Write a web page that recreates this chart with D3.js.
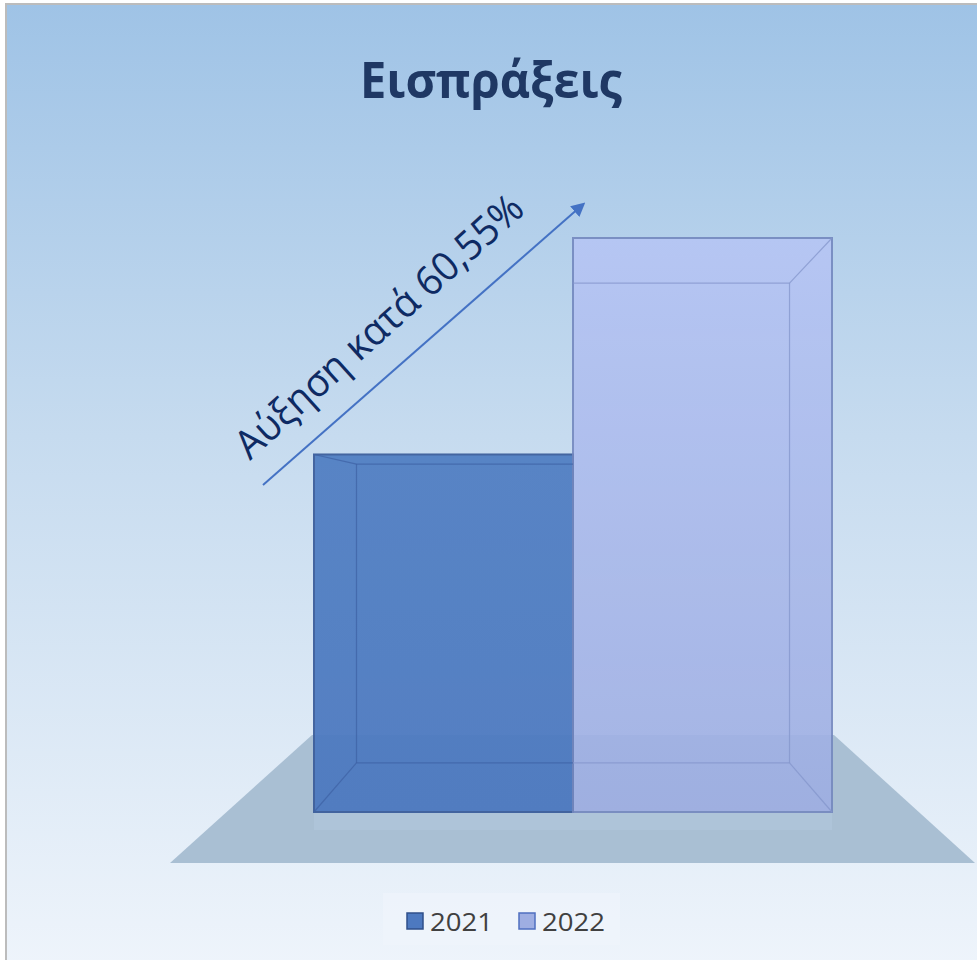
<!DOCTYPE html>
<html>
<head>
<meta charset="utf-8">
<script src="https://cdn.jsdelivr.net/npm/d3@7"></script>
<style>
  body { margin: 0; background: #ffffff; }
</style>
</head>
<body>
<div id="chart"></div>
<script>
const FRAME_WIDTH = 977;
const FRAME_HEIGHT = 960;

// data
const YEARS = ["2021", "2022"];
const VALUES = [100, 160.55];
const TITLE = "Εισπράξεις";
const NOTE = "Αύξηση κατά 60,55%";

const BAR_COLORS = ["#4d79c0", "#9eaee2"];
const BAR_TOPS = ["#5280c3", "#b6c5f4"];

// plot geometry
const PLOT = {left: 314, right: 832, base: 812, top: 238};
// vanishing point + depth factor for the fake 3d box
const VP = {x: 573, y: 513};
const DEPTH = 0.836;

const SVG = d3.select("#chart")
  .append("svg")
    .attr("width", FRAME_WIDTH)
    .attr("height", FRAME_HEIGHT);

const defs = SVG.append("defs");

const bg = defs.append("linearGradient").attr("id", "bg")
  .attr("x1", 0).attr("y1", 0).attr("x2", 0).attr("y2", 1);
bg.append("stop").attr("offset", "0%").attr("stop-color", "#9fc3e6");
bg.append("stop").attr("offset", "45%").attr("stop-color", "#c6dbef");
bg.append("stop").attr("offset", "100%").attr("stop-color", "#eef4fb");

YEARS.forEach((y, i) => {
  let g = defs.append("linearGradient").attr("id", "bar" + i)
    .attr("x1", 0).attr("y1", 0).attr("x2", 0).attr("y2", 1);
  g.append("stop").attr("offset", "0%").attr("stop-color", BAR_TOPS[i]);
  g.append("stop").attr("offset", "100%").attr("stop-color", BAR_COLORS[i]);
});

// panel + border
SVG.append("rect")
  .attr("x", 6).attr("y", 4)
  .attr("width", FRAME_WIDTH).attr("height", FRAME_HEIGHT)
  .attr("fill", "url(#bg)")
  .attr("stroke", "#bcbcbc")
  .attr("stroke-width", 2);

const X_SCALE = d3.scaleBand()
  .domain(YEARS)
  .range([PLOT.left, PLOT.right])
  .padding(0);

const Y_SCALE = d3.scaleLinear()
  .domain([0, d3.max(VALUES)])
  .range([PLOT.base, PLOT.top]);

// project a front point to the back face
function back(x, y) {
  return [VP.x + (x - VP.x) * DEPTH, VP.y + (y - VP.y) * DEPTH];
}

// floor
const FLOOR_BACK = 735, FLOOR_FRONT = 863;
const fb0 = X_SCALE.range()[0], fb1 = X_SCALE.range()[1];
SVG.append("path")
  .attr("d", "M" + (fb0 - 2) + "," + FLOOR_BACK + " L" + (fb1 + 2) + "," + FLOOR_BACK +
        " L" + 975 + "," + FLOOR_FRONT + " L" + 170 + "," + FLOOR_FRONT + "Z")
  .attr("fill", "#a9bfd3");
SVG.append("rect")
  .attr("x", fb0).attr("y", PLOT.base)
  .attr("width", fb1 - fb0).attr("height", 18)
  .attr("fill", "#b4c9e0").attr("opacity", 0.45);

// bars
SVG.selectAll(".bar")
  .data(VALUES)
  .enter()
  .append("rect")
    .attr("class", "bar")
    .attr("x", (d, i) => X_SCALE(YEARS[i]))
    .attr("y", (d) => Y_SCALE(d))
    .attr("width", X_SCALE.bandwidth())
    .attr("height", (d) => Y_SCALE(0) - Y_SCALE(d))
    .attr("fill", (d, i) => "url(#bar" + i + ")")
    .attr("opacity", (d, i) => i == 0 ? 0.95 : 0.9)
    .attr("stroke", (d, i) => i == 0 ? "#3d5f9c" : "#7488bf")
    .attr("stroke-width", 2);

// box edges
const EDGE = ["#3f63a6", "#8496cc"];
VALUES.forEach((v, i) => {
  let x0 = X_SCALE(YEARS[i]), x1 = x0 + X_SCALE.bandwidth();
  let yt = Y_SCALE(v), yb = Y_SCALE(0);
  let outer = i == 0 ? x0 : x1;
  let inner = i == 0 ? x1 : x0;
  let bt = back(outer, yt), bb = back(outer, yb);
  let ib = back(inner, yb), it = back(inner, yt);
  let lines = [
    [[outer, yt], bt], [[outer, yb], bb], [bt, bb], [bb, ib], [bt, it]
  ];
  SVG.append("g").selectAll("line")
    .data(lines)
    .enter()
    .append("line")
      .attr("x1", (d) => d[0][0]).attr("y1", (d) => d[0][1])
      .attr("x2", (d) => d[1][0]).attr("y2", (d) => d[1][1])
      .attr("stroke", EDGE[i])
      .attr("stroke-width", 1.2)
      .attr("opacity", 0.75);
});

// title
SVG.append("text")
  .attr("x", 491).attr("y", 98)
  .attr("text-anchor", "middle")
  .attr("font-family", "'Open Sans', sans-serif")
  .attr("font-weight", "bold")
  .attr("font-size", "50px")
  .attr("textLength", 262)
  .attr("lengthAdjust", "spacingAndGlyphs")
  .attr("fill", "#1f3864")
  .text(TITLE);

// arrow annotation
defs.append("marker").attr("id", "arrow")
  .attr("viewBox", "0 0 10 10").attr("refX", 5).attr("refY", 5)
  .attr("markerWidth", 7).attr("markerHeight", 7)
  .attr("orient", "auto")
  .append("path").attr("d", "M0,0 L10,5 L0,10 Z").attr("fill", "#4472c4");

SVG.append("line")
  .attr("x1", 263).attr("y1", 485)
  .attr("x2", 580).attr("y2", 207)
  .attr("stroke", "#4472c4")
  .attr("stroke-width", 2)
  .attr("marker-end", "url(#arrow)");

SVG.append("text")
  .attr("transform", "translate(250,461) rotate(-42)")
  .attr("font-family", "'Open Sans', sans-serif")
  .attr("font-size", "40px")
  .attr("textLength", 372)
  .attr("lengthAdjust", "spacingAndGlyphs")
  .attr("fill", "#0e2a63")
  .text(NOTE);

// legend
SVG.append("rect")
  .attr("x", 383).attr("y", 893)
  .attr("width", 237).attr("height", 52)
  .attr("fill", "#f0f5fb").attr("opacity", 0.6);

const LEGEND_X = [407, 519];
YEARS.forEach((y, i) => {
  SVG.append("rect")
    .attr("x", LEGEND_X[i]).attr("y", 913)
    .attr("width", 16).attr("height", 16)
    .attr("fill", BAR_COLORS[i])
    .attr("stroke", i == 0 ? "#2f4f8a" : "#4f6fc0")
    .attr("stroke-width", 1.5);
  SVG.append("text")
    .attr("x", LEGEND_X[i] + 23).attr("y", 931)
    .attr("font-family", "'Open Sans', sans-serif")
    .attr("font-size", "26px")
    .attr("textLength", 63)
    .attr("lengthAdjust", "spacingAndGlyphs")
    .attr("fill", "#404040")
    .text(y);
});
</script>
</body>
</html>
